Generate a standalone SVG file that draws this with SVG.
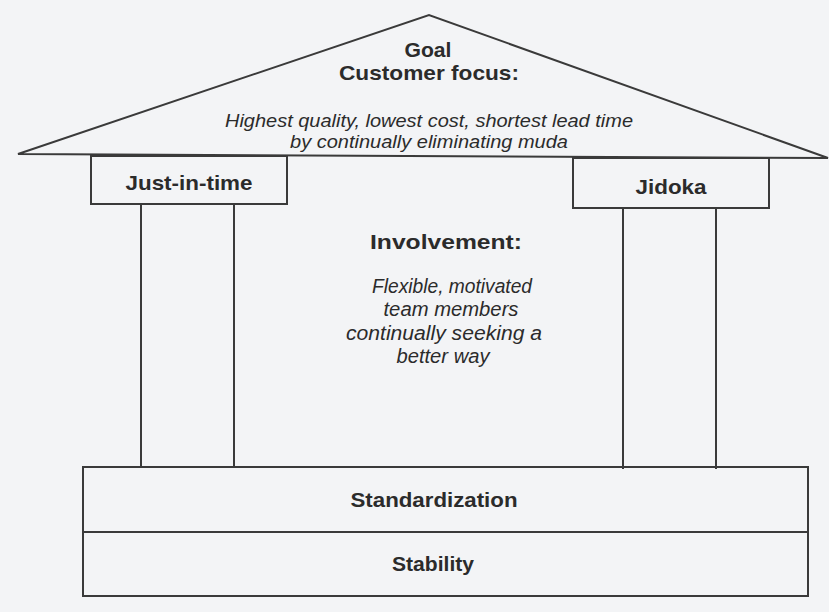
<svg xmlns="http://www.w3.org/2000/svg" width="829" height="612" viewBox="0 0 829 612">
<style>
.ln{fill:none;stroke:#3a3a3a;stroke-width:2;stroke-linejoin:miter}
.b{font-family:"Liberation Sans",Arial,sans-serif;font-weight:bold;fill:#2b2b2b;text-anchor:middle}
.i{font-family:"Liberation Sans",Arial,sans-serif;font-style:italic;fill:#2b2b2b;text-anchor:middle}
</style>
<rect x="0" y="0" width="829" height="612" fill="#f3f4f6"/>
<g id="roof">
<polygon class="ln" points="18,154 429,15 828,158"/>
<text class="b" x="428" y="57" font-size="21" textLength="47" lengthAdjust="spacingAndGlyphs">Goal</text>
<text class="b" x="429" y="80" font-size="21" textLength="180" lengthAdjust="spacingAndGlyphs">Customer focus:</text>
<text class="i" x="429" y="127" font-size="18" textLength="408" lengthAdjust="spacingAndGlyphs">Highest quality, lowest cost, shortest lead time</text>
<text class="i" x="429" y="148" font-size="18" textLength="278" lengthAdjust="spacingAndGlyphs">by continually eliminating muda</text>
</g>
<g id="just-in-time">
<rect class="ln" x="91" y="156" width="196" height="48"/>
<line class="ln" x1="141" y1="204" x2="141" y2="467"/>
<line class="ln" x1="234" y1="204" x2="234" y2="467"/>
<text class="b" x="189" y="190" font-size="21" textLength="127" lengthAdjust="spacingAndGlyphs">Just-in-time</text>
</g>
<g id="jidoka">
<rect class="ln" x="573" y="158" width="196" height="50"/>
<line class="ln" x1="623" y1="208" x2="623" y2="469"/>
<line class="ln" x1="716" y1="208" x2="716" y2="469"/>
<text class="b" x="671" y="194" font-size="21" textLength="71" lengthAdjust="spacingAndGlyphs">Jidoka</text>
</g>
<g id="involvement">
<text class="b" x="446" y="249" font-size="20" textLength="152" lengthAdjust="spacingAndGlyphs">Involvement:</text>
<text class="i" x="452" y="293" font-size="20" textLength="160" lengthAdjust="spacingAndGlyphs">Flexible, motivated</text>
<text class="i" x="451" y="316" font-size="20" textLength="135" lengthAdjust="spacingAndGlyphs">team members</text>
<text class="i" x="444" y="340" font-size="20" textLength="196" lengthAdjust="spacingAndGlyphs">continually seeking a</text>
<text class="i" x="443" y="363" font-size="20" textLength="93" lengthAdjust="spacingAndGlyphs">better way</text>
</g>
<g id="standardization">
<rect class="ln" x="83" y="467" width="725" height="65"/>
<text class="b" x="434" y="507" font-size="20" textLength="167" lengthAdjust="spacingAndGlyphs">Standardization</text>
</g>
<g id="stability">
<rect class="ln" x="83" y="532" width="725" height="64"/>
<text class="b" x="433" y="571" font-size="20" textLength="82" lengthAdjust="spacingAndGlyphs">Stability</text>
</g>
<g id="connectors"></g>
</svg>
